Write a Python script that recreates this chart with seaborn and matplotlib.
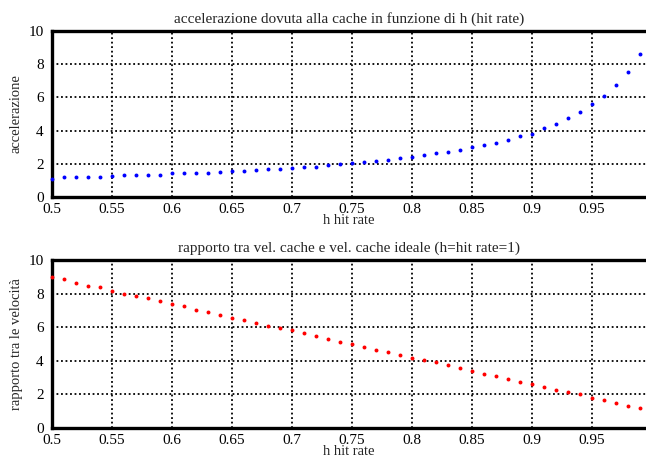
import numpy as np
import pandas as pd
import matplotlib
matplotlib.use("Agg")
import matplotlib.pyplot as plt
import seaborn as sns

h = [0.50, 0.51, 0.52, 0.53, 0.54, 0.55, 0.56, 0.57, 0.58, 0.59,
     0.60, 0.61, 0.62, 0.63, 0.64, 0.65, 0.66, 0.67, 0.68, 0.69,
     0.70, 0.71, 0.72, 0.73, 0.74, 0.75, 0.76, 0.77, 0.78, 0.79,
     0.80, 0.81, 0.82, 0.83, 0.84, 0.85, 0.86, 0.87, 0.88, 0.89,
     0.90, 0.91, 0.92, 0.93, 0.94, 0.95, 0.96, 0.97, 0.98, 0.99]

accelerazione = [1.09, 1.23, 1.23, 1.23, 1.23, 1.25, 1.35, 1.35, 1.35, 1.35,
                 1.43, 1.43, 1.47, 1.47, 1.52, 1.56, 1.56, 1.64, 1.70, 1.70,
                 1.72, 1.82, 1.82, 1.94, 1.96, 2.02, 2.12, 2.16, 2.24, 2.36,
                 2.42, 2.55, 2.63, 2.71, 2.83, 3.01, 3.13, 3.25, 3.43, 3.66,
                 3.82, 4.14, 4.42, 4.73, 5.15, 5.58, 6.10, 6.75, 7.52, 8.61]

rapporto = [8.97, 8.85, 8.65, 8.47, 8.37, 8.17, 7.99, 7.87, 7.73, 7.55,
            7.40, 7.28, 7.04, 6.92, 6.74, 6.56, 6.44, 6.26, 6.08, 5.96,
            5.84, 5.67, 5.49, 5.31, 5.13, 5.01, 4.83, 4.65, 4.53, 4.35,
            4.17, 4.06, 3.94, 3.76, 3.58, 3.40, 3.22, 3.10, 2.92, 2.74,
            2.62, 2.45, 2.27, 2.15, 2.03, 1.79, 1.67, 1.49, 1.31, 1.19]

xticks = [0.5, 0.55, 0.6, 0.65, 0.7, 0.75, 0.8, 0.85, 0.9, 0.95]
xticklabels = ["0.5", "0.55", "0.6", "0.65", "0.7", "0.75", "0.8", "0.85", "0.9", "0.95"]
yticks = [0, 2, 4, 6, 8, 10]

title_top = "accelerazione dovuta alla cache in funzione di h (hit rate)"
title_bot = "rapporto tra vel. cache e vel. cache ideale (h=hit rate=1)"
xlabel = "h hit rate"
ylabel_top = "accelerazione"
ylabel_bot = "rapporto tra le velocità"

sns.set_style("white")
plt.rcParams['font.family'] = ['Liberation Serif', 'DejaVu Serif']

df = pd.DataFrame({"h": h, "acc": accelerazione, "rap": rapporto})

W, H = 646, 457
fig = plt.figure(figsize=(W / 100, H / 100), dpi=100)
ax1 = fig.add_axes([52 / W, 1 - 197 / H, (646 - 52) / W, (197 - 31) / H])
ax2 = fig.add_axes([52 / W, 1 - 428 / H, (646 - 52) / W, (428 - 260) / H])

for ax, col, color, title, ylabel in [
    (ax1, "acc", "#0000ff", title_top, ylabel_top),
    (ax2, "rap", "#ff0000", title_bot, ylabel_bot),
]:
    sns.scatterplot(data=df, x="h", y=col, ax=ax, color=color, s=8,
                    linewidth=0, zorder=3, clip_on=False)
    ax.set_xlim(0.5, 0.995)
    ax.set_ylim(0, 10)
    ax.set_xticks(xticks)
    ax.set_xticklabels(xticklabels)
    ax.set_yticks(yticks)
    ax.grid(True, color="black", linestyle=(0, (1, 1.5)), linewidth=1.3)
    ax.set_axisbelow(True)
    for side in ["left", "bottom", "top"]:
        ax.spines[side].set_visible(True)
        ax.spines[side].set_color("black")
        ax.spines[side].set_linewidth(2.4)
    ax.spines["right"].set_visible(False)
    ax.tick_params(axis="both", direction="in", length=0, labelsize=11, colors="black")
    ax.tick_params(axis="x", pad=4)
    ax.tick_params(axis="y", pad=6)
    ax.set_title(title, fontsize=11, pad=6)
    ax.set_xlabel(xlabel, fontsize=10.5, labelpad=-1)
    ax.set_ylabel(ylabel, fontsize=10.5, labelpad=4)

fig.savefig("out.png", dpi=100, facecolor="white")
